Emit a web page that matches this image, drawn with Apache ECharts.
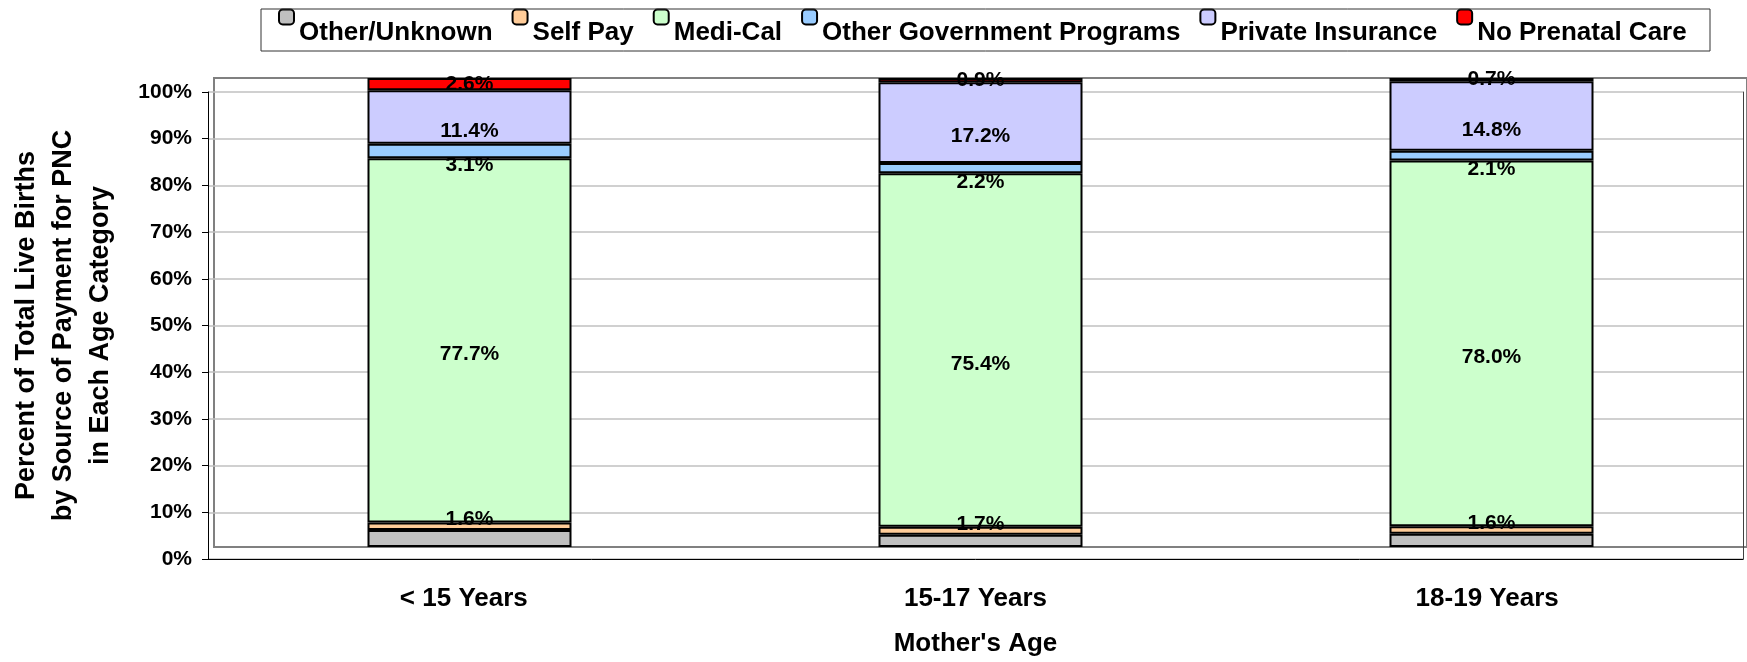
<!DOCTYPE html>
<html>
	<head>
		<meta charset="utf-8">
		<title>Source of Payment for PNC by Mother's Age</title>
		<style>
			html, body { margin: 0; padding: 0; background: #fff; }
		</style>
	</head>
	<body>
		<div id="container" style="width: 1747px;height:662px;"></div>
	</body>
	<script src="https://cdn.jsdelivr.net/npm/echarts@6/dist/echarts.min.js"></script>
	<script type="text/javascript">
		'use strict'
		// data (percent of births in each age group)
		var categories = ['< 15 Years', '15-17 Years', '18-19 Years'];
		var yTicks = [0, 10, 20, 30, 40, 50, 60, 70, 80, 90, 100];
		var otherUnknown = [3.6, 2.6, 2.8];
		var selfPay = [1.6, 1.7, 1.6];
		var mediCal = [77.7, 75.4, 78.0];
		var otherGov = [3.1, 2.2, 2.1];
		var privateIns = [11.4, 17.2, 14.8];
		var noPrenatal = [2.6, 0.9, 0.7];

		var FONT = '"Liberation Sans", Arial, sans-serif';

		var myCharts = echarts.init(document.getElementById('container'));

		// one stacked segment; labels are nudged like in the original 3D-ish excel chart
		function seg(name, data, color, showLabel, dy) {
			return {
				name: name,
				type: 'bar',
				stack: 'all',
				xAxisIndex: 1,
				yAxisIndex: 1,
				barWidth: 204,
				data: data,
				itemStyle: { color: color, borderColor: '#000', borderWidth: 2 },
				label: {
					show: showLabel,
					position: 'inside',
					offset: [0, dy],
					color: '#000',
					fontFamily: FONT,
					fontWeight: 'bold',
					fontSize: 21,
					formatter: function (p) { return p.value.toFixed(1) + '%'; }
				}
			};
		}

		var option = {
			animation: false,
			backgroundColor: '#fff',
			textStyle: { fontFamily: FONT },
			legend: {
				left: 278,
				top: -14,
				padding: 0,
				itemGap: 19,
				itemWidth: 15,
				itemHeight: 15,
				// empty first line pushes the name below the marker, as excel drew it
				formatter: function (name) { return '\n' + name; },
				textStyle: {
					color: '#000',
					fontFamily: FONT,
					fontWeight: 'bold',
					fontSize: 26,
					lineHeight: 31
				},
				data: ['Other/Unknown', 'Self Pay', 'Medi-Cal', 'Other Government Programs', 'Private Insurance', 'No Prenatal Care']
			},
			// legend frame
			graphic: [{
				type: 'rect',
				shape: { x: 261, y: 9, width: 1449, height: 42 },
				style: { fill: 'none', stroke: '#333', lineWidth: 1 },
				z: 10
			}],
			grid: [
				// front: the axes
				{ left: 208, top: 92, width: 1535, height: 469 },
				// back wall, where the bars sit
				{ left: 214, top: 78, width: 1537, height: 469, show: true,
				  backgroundColor: 'transparent', borderColor: '#808080', borderWidth: 2 }
			],
			xAxis: [{
				type: 'category',
				gridIndex: 0,
				data: categories,
				name: "Mother's Age",
				nameLocation: 'middle',
				nameGap: 72,
				nameTextStyle: { color: '#000', fontFamily: FONT, fontWeight: 'bold', fontSize: 26 },
				axisLine: { lineStyle: { color: '#000', width: 1 } },
				axisTick: { length: 8, lineStyle: { color: '#000' } },
				axisLabel: { color: '#000', fontFamily: FONT, fontWeight: 'bold', fontSize: 26, margin: 27 },
				splitLine: { show: false }
			}, {
				type: 'category',
				gridIndex: 1,
				data: categories,
				show: false
			}],
			yAxis: [{
				type: 'value',
				gridIndex: 0,
				min: yTicks[0],
				max: yTicks[yTicks.length - 1],
				interval: 10,
				name: 'Percent of Total Live Births\nby Source of Payment for PNC\nin Each Age Category',
				nameLocation: 'middle',
				nameGap: 89,
				nameTextStyle: { color: '#000', fontFamily: FONT, fontWeight: 'bold', fontSize: 27, lineHeight: 37 },
				axisLine: { show: true, lineStyle: { color: '#000', width: 1 } },
				axisTick: { show: true, length: 6, lineStyle: { color: '#000' } },
				axisLabel: { color: '#000', fontFamily: FONT, fontWeight: 'bold', fontSize: 21, margin: 16,
					formatter: '{value}%' },
				splitLine: { show: true, lineStyle: { color: '#c0c0c0', width: 1.5 } }
			}, {
				type: 'value',
				gridIndex: 1,
				min: 0,
				max: 100,
				show: false
			}, {
				type: 'value',
				gridIndex: 0,
				position: 'right',
				min: 0,
				max: 100,
				axisLine: { show: true, lineStyle: { color: '#404040', width: 1 } },
				axisTick: { show: false },
				axisLabel: { show: false },
				splitLine: { show: false }
			}],
			series: [
				seg('Other/Unknown', otherUnknown, '#C0C0C0', false, 0),
				seg('Self Pay', selfPay, '#FFCC99', true, -7),
				seg('Medi-Cal', mediCal, '#CCFFCC', true, 14),
				seg('Other Government Programs', otherGov, '#99CCFF', true, 14),
				seg('Private Insurance', privateIns, '#CCCCFF', true, 14),
				seg('No Prenatal Care', noPrenatal, '#FF0000', true, 0)
			]
		};
		myCharts.setOption(option);
	</script>
</html>
